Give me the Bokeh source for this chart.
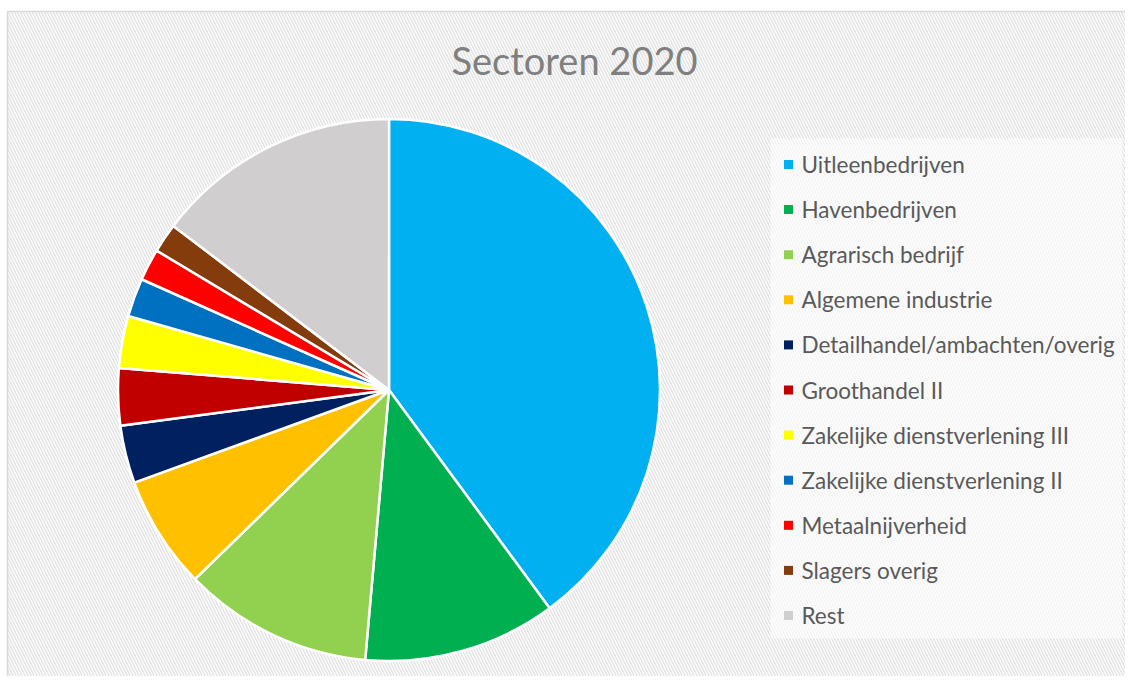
import math
from bokeh.plotting import figure
from bokeh.models import Range1d
from bokeh.core.properties import value
from bokeh.embed import file_html
from bokeh.resources import INLINE

title_text = "Sectoren 2020"
sectors = ["Uitleenbedrijven", "Havenbedrijven", "Agrarisch bedrijf", "Algemene industrie",
           "Detailhandel/ambachten/overig", "Groothandel II", "Zakelijke dienstverlening III",
           "Zakelijke dienstverlening II", "Metaalnijverheid", "Slagers overig", "Rest"]
shares = [39.9, 11.5, 11.3, 6.75, 3.45, 3.4, 3.1, 2.3, 1.9, 1.75, 14.65]
colors = ["#00B0F0", "#00B050", "#92D050", "#FFC000", "#002060", "#C00000",
          "#FFFF00", "#0070C0", "#FF0000", "#843C0C", "#D0CECE"]

W, H = 1125, 676
OX, OY = 0, 0

def X(sx):
    return sx - OX

def Y(sy):
    return H - (sy - OY)

p = figure(width=W, height=H, output_backend="svg", toolbar_location=None,
           x_range=Range1d(0, W), y_range=Range1d(0, H),
           x_axis_location=None, y_axis_location=None, min_border=0)
p.grid.visible = False
p.outline_line_color = None
p.background_fill_color = "white"
p.border_fill_color = "white"

# hatched chart area with light border
p.quad(left=[X(7)], right=[X(1145)], bottom=[Y(700)], top=[Y(11)],
       fill_color="white", line_color="#D9D9D9", line_width=1.5,
       hatch_pattern="left_diagonal_line", hatch_color="#E4E4E4",
       hatch_scale=6, hatch_weight=1.6)

# pie
total = sum(shares)
cx, cy, r = X(388.5), Y(389.5), 271
cum = 0.0
starts, ends = [], []
for s in shares:
    a0 = math.pi / 2 - 2 * math.pi * (cum + s) / total
    a1 = math.pi / 2 - 2 * math.pi * cum / total
    starts.append(a0)
    ends.append(a1)
    cum += s
p.wedge(x=[cx] * len(shares), y=[cy] * len(shares), radius=r, radius_units="screen",
        start_angle=starts, end_angle=ends, fill_color=colors,
        line_color="white", line_width=2.5)

# title
p.text(x=[X(574)], y=[Y(59)], text=[title_text], text_font=value("Lato"),
       text_font_size="38px", text_color="#7F7F7F", text_align="center",
       text_baseline="middle")

# legend
p.quad(left=[X(770)], right=[X(1122)], bottom=[Y(638)], top=[Y(138)],
       fill_color="white", fill_alpha=0.6, line_color=None)
row0, step = 164, 45.1
ys = [Y(row0 + i * step) for i in range(len(sectors))]
p.scatter(x=[X(788)] * len(sectors), y=ys, marker="square", size=9,
          fill_color=colors, line_color=None)
p.text(x=[X(801)] * len(sectors), y=ys, text=sectors, text_font=value("Lato"),
       text_font_size="22.5px", text_color="#595959", text_align="left",
       text_baseline="middle")

open("out.html", "w").write(file_html(p, INLINE))
